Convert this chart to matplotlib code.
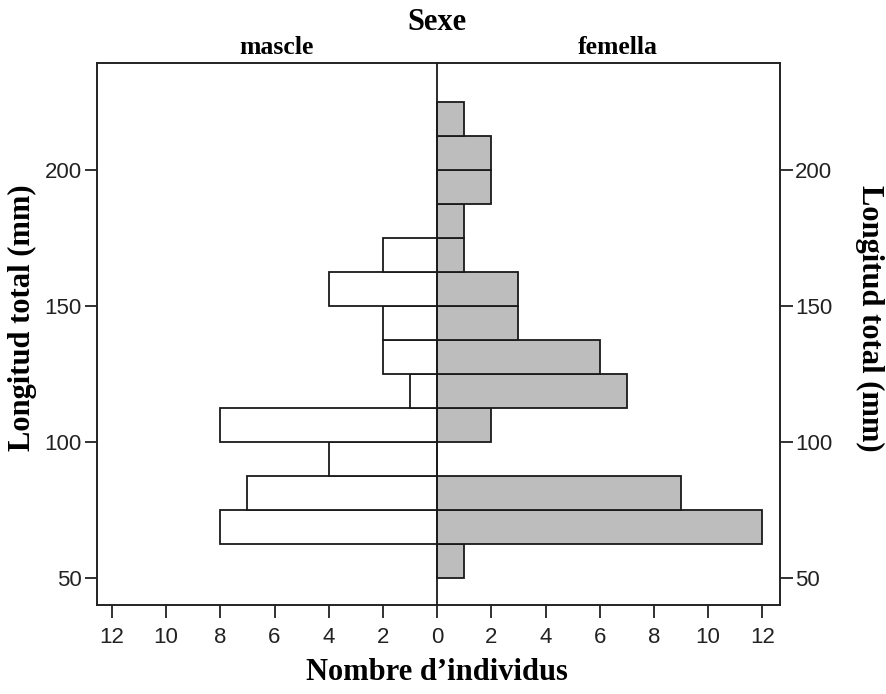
import matplotlib
matplotlib.use("Agg")
import matplotlib.pyplot as plt
import numpy as np

# Data: bin lower edges (mm), bin width 12.5 mm
bin_lower = [50, 62.5, 75, 87.5, 100, 112.5, 125, 137.5, 150, 162.5, 175, 187.5, 200, 212.5]
bin_width = 12.5
female_counts = [1, 12, 9, 0, 2, 7, 6, 3, 3, 1, 1, 2, 2, 1]
male_counts = [0, 8, 7, 4, 8, 1, 2, 2, 4, 2, 0, 0, 0, 0]

x_ticks = [-12, -10, -8, -6, -4, -2, 0, 2, 4, 6, 8, 10, 12]
x_tick_labels = ["12", "10", "8", "6", "4", "2", "0", "2", "4", "6", "8", "10", "12"]
y_ticks = [50, 100, 150, 200]

title = "Sexe"
left_group = "mascle"
right_group = "femella"
x_label = "Nombre d\u2019individus"
y_label = "Longitud total (mm)"

serif = ["Liberation Serif", "DejaVu Serif"]
sans = ["Liberation Sans", "DejaVu Sans"]

fig = plt.figure(figsize=(8.87, 6.94), dpi=100)
ax = fig.add_axes([97/887, 1-605/694, (780-97)/887, (605-63)/694])

edge = "#1a1a1a"
lw = 1.3

f_y = [b for b, c in zip(bin_lower, female_counts) if c > 0]
f_w = [c for c in female_counts if c > 0]
m_y = [b for b, c in zip(bin_lower, male_counts) if c > 0]
m_w = [-c for c in male_counts if c > 0]

ax.barh(f_y, f_w, height=bin_width, left=0, align="edge",
        color="#bdbdbd", edgecolor=edge, linewidth=lw, zorder=2)
ax.barh(m_y, m_w, height=bin_width, left=0, align="edge",
        color="white", edgecolor=edge, linewidth=lw, zorder=2)
ax.axvline(0, color=edge, linewidth=lw, zorder=3)

ax.set_xlim(-12.55, 12.65)
ax.set_ylim(40.1, 239.3)

ax.set_xticks(x_ticks)
ax.set_xticklabels(x_tick_labels)
ax.set_yticks(y_ticks)
ax.set_yticklabels([str(v) for v in y_ticks])

for sp in ax.spines.values():
    sp.set_linewidth(1.4)
    sp.set_color("#222222")

ax.tick_params(axis="both", direction="out", length=9, width=1.3, color="#222222",
               labelsize=16, pad=2, labelcolor="#222222")
ax.tick_params(axis="y", left=True, right=True, labelleft=True, labelright=True)
ax.tick_params(axis="x", top=False, pad=7)
for lab in ax.get_xticklabels() + ax.get_yticklabels():
    lab.set_family(sans)

# Titles
fig.text(437/887, 1-22/694, title, ha="center", va="center",
         family=serif, fontweight="bold", fontsize=22)
fig.text(276/887, 1-48/694, left_group, ha="center", va="center",
         family=serif, fontweight="bold", fontsize=18.5)
fig.text(618/887, 1-48/694, right_group, ha="center", va="center",
         family=serif, fontweight="bold", fontsize=18.5)

fig.text(437/887, 1-673/694, x_label, ha="center", va="center",
         family=serif, fontweight="bold", fontsize=22)
fig.text(22/887, 1-318/694, y_label, ha="center", va="center", rotation=90,
         family=serif, fontweight="bold", fontsize=22)
fig.text(870/887, 1-318/694, y_label, ha="center", va="center", rotation=270,
         family=serif, fontweight="bold", fontsize=22)

fig.savefig("out.png", dpi=100)
